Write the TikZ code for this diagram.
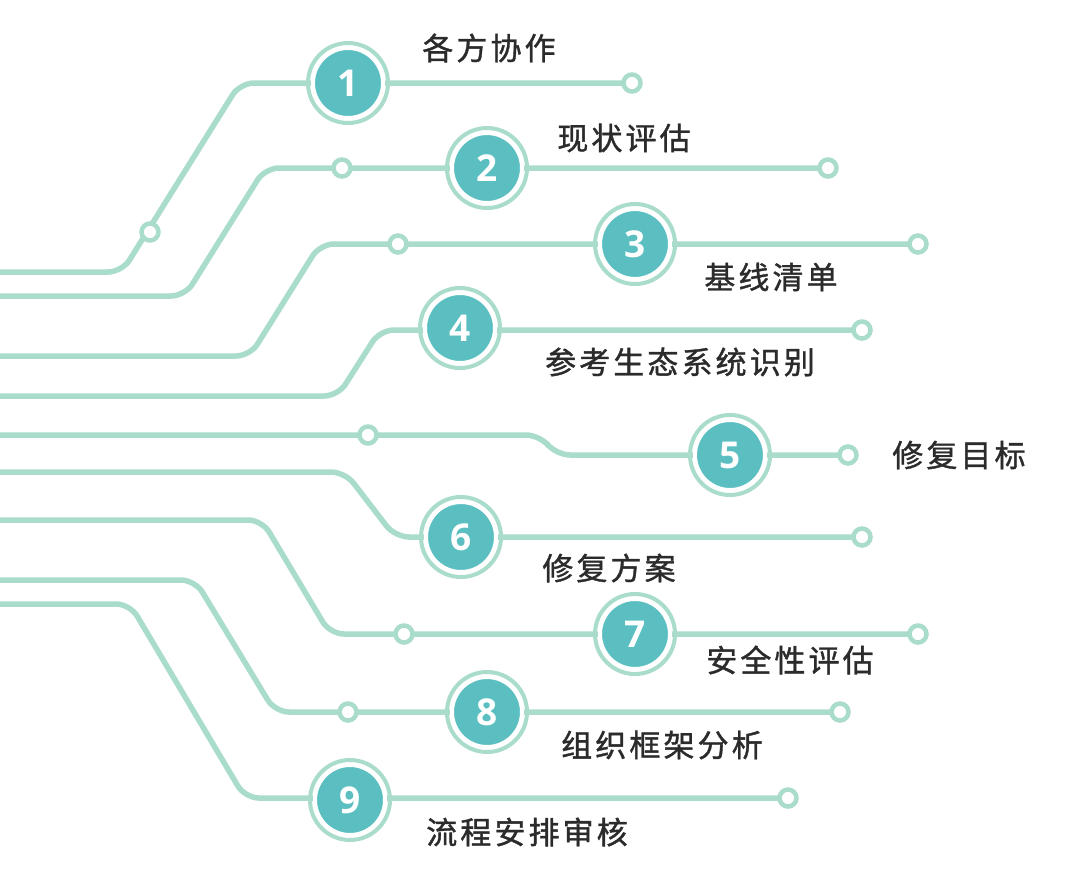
\documentclass[tikz,border=0pt]{standalone}
\usepackage{fontspec}
\newfontfamily\cjk[LetterSpace=10,FakeBold=1.2]{Noto Sans CJK SC}
\newfontfamily\numf{Open Sans}
\definecolor{ln}{HTML}{A9DCCA}
\definecolor{tl}{HTML}{5BBFC2}
\definecolor{tx}{HTML}{2B2B2B}
\tikzset{
 wire/.style={ln,line width=5.5pt,rounded corners=14pt},
 dot/.style={circle,draw=ln,line width=4.5pt,fill=white,minimum size=17pt,inner sep=0pt},
 big/.style={circle,fill=tl,draw=white,line width=4pt,minimum size=70pt,inner sep=0pt,text=white,font=\numf\bfseries\fontsize{37}{37}\selectfont},
 ring/.style={circle,draw=ln,line width=4pt,minimum size=80pt,inner sep=0pt},
 lab/.style={text=tx,font=\cjk\fontsize{31}{31}\selectfont}
}
\begin{document}
\begin{tikzpicture}[x=1pt,y=-1pt]
\useasboundingbox[fill=white] (0,0) rectangle (1080,887);
% wires
\draw[wire] (0,272) -- (122,272) -- (240,83) -- (632,83);
\draw[wire] (0,296) -- (185,296) -- (265,168) -- (828,168);
\draw[wire] (0,356) -- (250,356) -- (320,244) -- (918,244);
\draw[wire] (0,396) -- (338,396) -- (380,330) -- (862,330);
\draw[wire] (0,435) -- (540,435) -- (556,455) -- (848,455);
\draw[wire] (0,472) -- (345,472) -- (395,537) -- (862,537);
\draw[wire] (0,520) -- (262,520) -- (330,634) -- (918,634);
\draw[wire] (0,580) -- (195,580) -- (275,712) -- (840,712);
\draw[wire] (0,604) -- (130,604) -- (245,798) -- (788,798);
% small dots
\foreach \n/\p in {a/{(150,232)},b/{(342,168)},c/{(398,244)},d/{(368,435)},e/{(404,634)},f/{(348,712)},
  ea/{(632,83)},eb/{(828,168)},ec/{(918,244)},ed/{(862,330)},ee/{(848,455)},ef/{(862,537)},eg/{(918,634)},eh/{(840,712)},ei/{(788,798)}}
  \node[dot] (d\n) at \p {};
% big circles
\foreach \i/\x/\y in {1/348/83,2/487/168,3/635/244,4/460/328,5/730/455,6/461/537,7/635/634,8/487/712,9/350/800}{
  \node[ring] (r\i) at (\x,\y) {};
  \node[big] (n\i) at (\x,\y) {\i};
}
% labels
\node[lab] (t1) at (489,48) {各方协作};
\node[lab] (t2) at (624,138) {现状评估};
\node[lab] (t3) at (771,277) {基线清单};
\node[lab] (t4) at (680,362) {参考生态系统识别};
\node[lab] (t5) at (959,455) {修复目标};
\node[lab] (t6) at (609,568) {修复方案};
\node[lab] (t7) at (790,660) {安全性评估};
\node[lab] (t8) at (662,745) {组织框架分析};
\node[lab] (t9) at (527,832) {流程安排审核};
\end{tikzpicture}
\end{document}
